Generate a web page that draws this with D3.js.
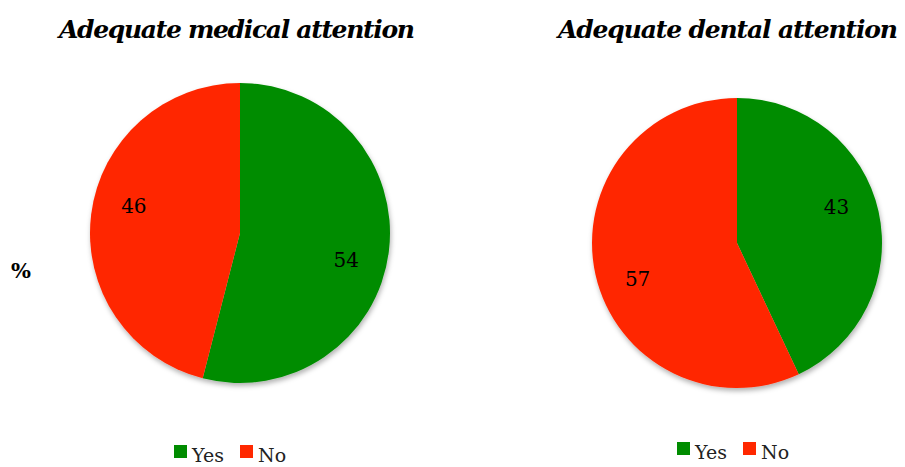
<!DOCTYPE html>
<html>
<head>
<meta charset="utf-8">
<script src="https://cdn.jsdelivr.net/npm/d3@7"></script>
<style>
  body { margin: 0; background: #fff; }
  svg { display: block; }
  text { font-family: "DejaVu Serif", serif; }
</style>
</head>
<body>
<svg id="chart"></svg>
<script>
// data
const categories = ["Yes", "No"];
const medicalValues = [54, 46];
const dentalValues = [43, 57];
const titles = ["Adequate medical attention", "Adequate dental attention"];

const width = 905, height = 467;
const color = d3.scaleOrdinal().domain(categories).range(["#008c00", "#ff2800"]);

const svg = d3.select("#chart").attr("width", width).attr("height", height);

// soft shadow under the pies
const defs = svg.append("defs");
const f = defs.append("filter").attr("id", "shadow").attr("x", "-10%").attr("y", "-10%").attr("width", "120%").attr("height", "120%");
f.append("feDropShadow").attr("dx", 1).attr("dy", 3).attr("stdDeviation", 2.5).attr("flood-color", "#000").attr("flood-opacity", 0.3);

// layout of each pie (labels in the original sit a bit off the slice middles)
const pies = [
  {values: medicalValues, title: titles[0], cx: 240, cy: 233, r: 150, shift: 7, titleX: 237, legendX: 174, legendY: 445},
  {values: dentalValues, title: titles[1], cx: 737, cy: 243, r: 145, shift: -7.5, titleX: 728, legendX: 677, legendY: 442}
];

const pie = d3.pie().sort(null).value(d => d.value);

pies.forEach(p => {
  const data = categories.map((c, i) => ({cat: c, value: p.values[i]}));
  const arc = d3.arc().innerRadius(0).outerRadius(p.r);
  const lr = p.r * 0.73;
  const sh = p.shift * Math.PI / 180;
  const labelPos = d => {
    const a = (d.startAngle + d.endAngle) / 2 + sh;
    return [lr * Math.sin(a), -lr * Math.cos(a)];
  };

  const g = svg.append("g").attr("transform", `translate(${p.cx},${p.cy})`);
  g.append("g").attr("filter", "url(#shadow)")
    .selectAll("path")
    .data(pie(data))
    .join("path")
    .attr("d", arc)
    .attr("fill", d => color(d.data.cat));

  g.selectAll("text")
    .data(pie(data))
    .join("text")
    .attr("transform", d => `translate(${labelPos(d)})`)
    .attr("text-anchor", "middle")
    .attr("dy", "0.35em")
    .style("font-size", "20px")
    .text(d => d.data.value);

  // title
  svg.append("text")
    .attr("x", p.titleX)
    .attr("y", 38)
    .attr("text-anchor", "middle")
    .attr("textLength", p === pies[0] ? 356 : 340)
    .style("font-style", "italic")
    .style("font-weight", "bold")
    .style("font-size", "25px")
    .text(p.title);

  // legend
  const lg = svg.append("g").attr("transform", `translate(${p.legendX},${p.legendY})`);
  const items = [{cat: "Yes", x: 0}, {cat: "No", x: 66}];
  items.forEach(it => {
    lg.append("rect").attr("x", it.x).attr("y", 0).attr("width", 13).attr("height", 13).attr("fill", color(it.cat));
    lg.append("text")
      .attr("x", it.x + 18)
      .attr("y", 17)
      .style("font-size", "19px")
      .style("fill", "#222")
      .text(it.cat);
  });
});

svg.append("text")
  .attr("x", 11)
  .attr("y", 278)
  .style("font-weight", "bold")
  .style("font-size", "21px")
  .text("%");
</script>
</body>
</html>
